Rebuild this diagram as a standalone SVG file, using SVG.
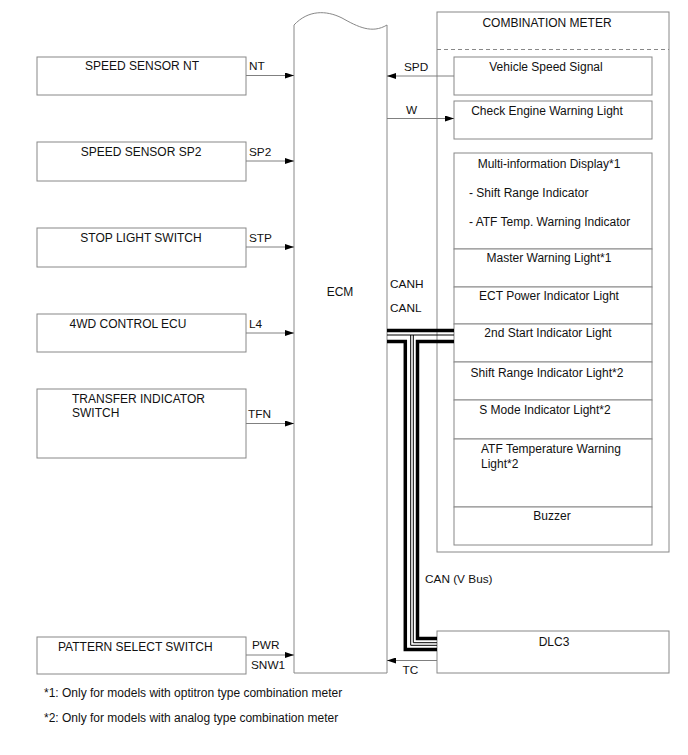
<svg xmlns="http://www.w3.org/2000/svg" width="688" height="755" viewBox="0 0 688 755">
<defs>
<marker id="arr" markerUnits="userSpaceOnUse" markerWidth="9" markerHeight="6" refX="9" refY="3" orient="auto">
<path d="M0,0 L9,3 L0,6 z" fill="#000"/>
</marker>
<style>
text{font-family:"Liberation Sans",Arial,sans-serif;font-size:12px;fill:#111}
.b{fill:#fff;stroke:#888;stroke-width:1}
.c{fill:none;stroke:#808080;stroke-width:1}
.a{marker-end:url(#arr)}
.m{text-anchor:middle}
.pin{font-size:11.8px}
.fn{font-size:12px}
.can{fill:none;stroke:#000;stroke-width:3.5}
.can1{fill:none;stroke:#000;stroke-width:1}
</style>
</defs>
<rect width="688" height="755" fill="#fff"/>

<g id="ecm">
<path class="b" d="M294,673 L294,25 C308,10 326,10 342,18 C358,27 372,34 387,25 L387,673 Z"/>
<text x="340" y="296" class="m">ECM</text>
</g>

<g id="speed-sensor-nt"><rect class="b" x="37" y="57" width="209" height="38"/><text x="142" y="70" class="m">SPEED SENSOR NT</text></g>
<g id="speed-sensor-sp2"><rect class="b" x="37" y="142" width="209" height="39"/><text x="141" y="156" class="m">SPEED SENSOR SP2</text></g>
<g id="stop-light-switch"><rect class="b" x="37" y="228" width="209" height="39"/><text x="141" y="242" class="m">STOP LIGHT SWITCH</text></g>
<g id="4wd-control-ecu"><rect class="b" x="37" y="314" width="209" height="38"/><text x="128" y="328" class="m">4WD CONTROL ECU</text></g>
<g id="transfer-indicator-switch"><rect class="b" x="37" y="389" width="209" height="69"/><text x="72" y="403">TRANSFER INDICATOR</text><text x="72" y="417">SWITCH</text></g>
<g id="pattern-select-switch"><rect class="b" x="37" y="637" width="209" height="37"/><text x="58" y="651">PATTERN SELECT SWITCH</text></g>

<g id="combination-meter">
<rect class="b" x="437" y="12" width="232" height="540"/>
<text x="547" y="27" class="m">COMBINATION METER</text>
<line x1="437" y1="49.5" x2="669" y2="49.5" stroke="#888" stroke-width="1" stroke-dasharray="4,3"/>
</g>
<g id="vehicle-speed-signal"><rect class="b" x="454" y="57" width="198" height="38"/><text x="546" y="71" class="m">Vehicle Speed Signal</text></g>
<g id="check-engine-warning-light"><rect class="b" x="454" y="101" width="198" height="38"/><text x="547" y="115" class="m">Check Engine Warning Light</text></g>
<g id="multi-information-display"><rect class="b" x="454" y="153" width="198" height="96"/><text x="549" y="168" class="m">Multi-information Display*1</text><text x="469" y="197">- Shift Range Indicator</text><text x="469" y="226">- ATF Temp. Warning Indicator</text></g>
<g id="master-warning-light"><rect class="b" x="454" y="249" width="198" height="38"/><text x="549" y="262" class="m">Master Warning Light*1</text></g>
<g id="ect-power-indicator-light"><rect class="b" x="454" y="287" width="198" height="37"/><text x="549" y="300" class="m">ECT Power Indicator Light</text></g>
<g id="2nd-start-indicator-light"><rect class="b" x="454" y="324" width="198" height="38"/><text x="548" y="337" class="m">2nd Start Indicator Light</text></g>
<g id="shift-range-indicator-light"><rect class="b" x="454" y="362" width="198" height="38"/><text x="547" y="377" class="m">Shift Range Indicator Light*2</text></g>
<g id="s-mode-indicator-light"><rect class="b" x="454" y="400" width="198" height="39"/><text x="545" y="414" class="m">S Mode Indicator Light*2</text></g>
<g id="atf-temperature-warning-light"><rect class="b" x="454" y="439" width="198" height="68"/><text x="481" y="453">ATF Temperature Warning</text><text x="481" y="468">Light*2</text></g>
<g id="buzzer"><rect class="b" x="454" y="507" width="198" height="38"/><text x="552" y="520" class="m">Buzzer</text></g>

<g id="dlc3"><rect class="b" x="437" y="631" width="232" height="42"/><text x="554" y="646" class="m">DLC3</text></g>

<g id="connectors">
<line class="c a" x1="246" y1="75.5" x2="294" y2="75.5"/>
<line class="c a" x1="246" y1="161" x2="294" y2="161"/>
<line class="c a" x1="246" y1="247" x2="294" y2="247"/>
<line class="c a" x1="246" y1="333" x2="294" y2="333"/>
<line class="c a" x1="246" y1="423.5" x2="294" y2="423.5"/>
<line class="c a" x1="246" y1="655" x2="294" y2="655"/>
<line class="c a" x1="454" y1="76" x2="387" y2="76"/>
<line class="c a" x1="387" y1="118.5" x2="454" y2="118.5"/>
<line class="c a" x1="437" y1="660.5" x2="387" y2="660.5"/>

<line class="can" x1="387" y1="330.5" x2="454" y2="330.5"/>
<line class="can1" x1="387" y1="335" x2="454" y2="335"/>
<polyline class="can" points="387,341.5 405.3,341.5 405.3,649.5 437,649.5"/>
<polyline class="can" points="454,341.5 417.5,341.5 417.5,638.5 437,638.5"/>
<polyline class="can1" points="410.7,335 410.7,645.3 437,645.3"/>
<polyline class="can1" points="413.3,335 413.3,642.7 437,642.7"/>

<text x="249" y="70" class="pin">NT</text>
<text x="249" y="156" class="pin">SP2</text>
<text x="249" y="242" class="pin">STP</text>
<text x="249" y="328" class="pin">L4</text>
<text x="248" y="418" class="pin">TFN</text>
<text x="252" y="649" class="pin">PWR</text>
<text x="251" y="668.5" class="pin">SNW1</text>
<text x="404" y="71" class="pin">SPD</text>
<text x="406" y="113.5" class="pin">W</text>
<text x="390" y="288" class="pin">CANH</text>
<text x="390" y="312" class="pin">CANL</text>
<text x="425" y="583" class="pin">CAN (V Bus)</text>
<text x="402.5" y="674" class="pin">TC</text>
</g>

<text x="44" y="697" class="fn">*1: Only for models with optitron type combination meter</text>
<text x="44" y="722" class="fn">*2: Only for models with analog type combination meter</text>
</svg>
